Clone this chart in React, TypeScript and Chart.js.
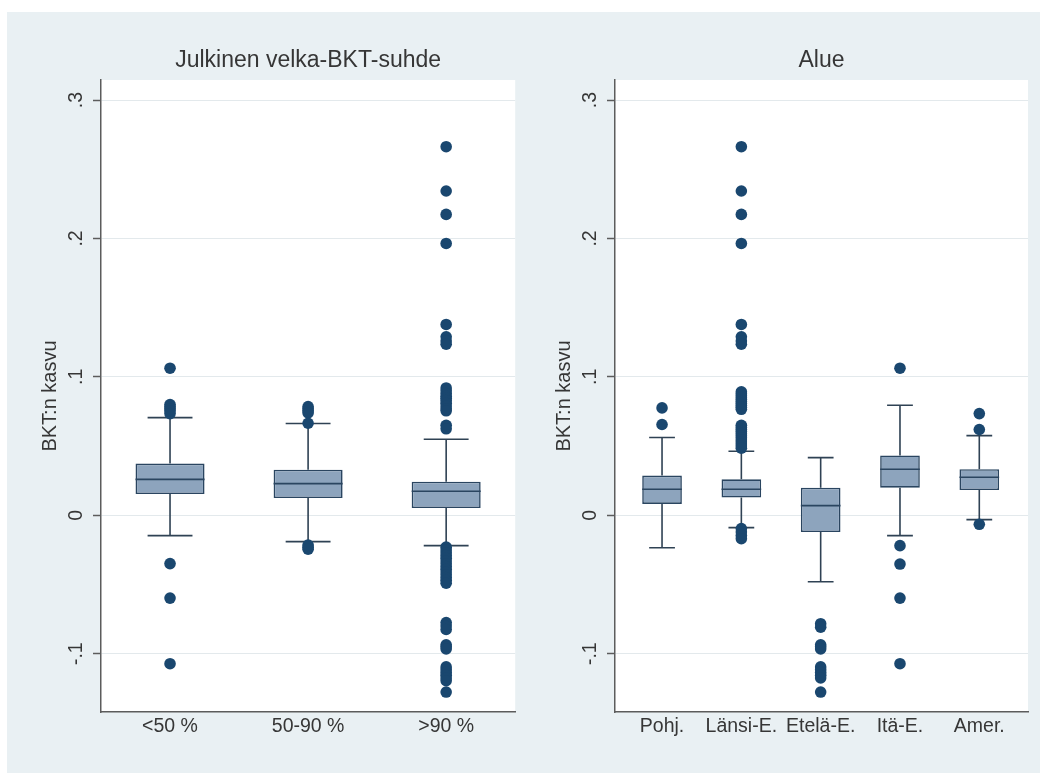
import { useEffect, useRef } from 'react';
import { Chart, registerables } from 'chart.js';

Chart.register(...registerables);

// ---- Panel 1: public debt-to-GDP groups ----
const debtGroups = ['<50 %', '50-90 %', '>90 %'];
const debtQ1 = [0.0154, 0.0125, 0.0053];
const debtMedian = [0.026, 0.0229, 0.0174];
const debtQ3 = [0.0374, 0.033, 0.0243];
const debtWhiskerLow = [-0.0147, -0.019, -0.0219];
const debtWhiskerHigh = [0.0706, 0.0663, 0.055];
const debtOutliers = [
  [0.1063, 0.08, 0.0785, 0.077, 0.0755, 0.0735, -0.0349, -0.0598, -0.1072],
  [0.0785, 0.077, 0.0755, 0.074, 0.0665, -0.0215, -0.023, -0.0245],
  [
    0.2663, 0.2343, 0.2174, 0.1964, 0.1379, 0.129, 0.126, 0.1236,
    0.092, 0.09, 0.088, 0.086, 0.0845, 0.083, 0.081, 0.079, 0.077, 0.0755, 0.065, 0.0625,
    -0.023, -0.025, -0.027, -0.029, -0.031, -0.033, -0.035, -0.037, -0.039, -0.041,
    -0.043, -0.045, -0.047, -0.049,
    -0.0775, -0.08, -0.0825, -0.0935, -0.095, -0.0965,
    -0.1095, -0.1115, -0.1135, -0.1155, -0.1175, -0.1195, -0.1277,
  ],
];

// ---- Panel 2: regions ----
const regionGroups = ['Pohj.', 'Länsi-E.', 'Etelä-E.', 'Itä-E.', 'Amer.'];
const regionQ1 = [0.0082, 0.0128, -0.0121, 0.02, 0.0183];
const regionMedian = [0.0188, 0.0188, 0.007, 0.0333, 0.0275];
const regionQ3 = [0.0287, 0.026, 0.02, 0.0432, 0.0333];
const regionWhiskerLow = [-0.0234, -0.0089, -0.048, -0.0147, -0.0031];
const regionWhiskerHigh = [0.0562, 0.0463, 0.0417, 0.0795, 0.0576];
const regionOutliers = [
  [0.0776, 0.0656],
  [
    0.2663, 0.2343, 0.2174, 0.1964, 0.1379, 0.129, 0.126, 0.1236,
    0.0892, 0.0878, 0.0864, 0.085, 0.0836, 0.0822, 0.0808, 0.0794, 0.078, 0.0766,
    0.065, 0.0635, 0.062, 0.0605, 0.059, 0.0575, 0.056, 0.0545, 0.053, 0.0515, 0.05, 0.0485,
    -0.0096, -0.012, -0.0145, -0.0169,
  ],
  [
    -0.0783, -0.0808, -0.0935, -0.095, -0.0965,
    -0.1095, -0.1115, -0.1135, -0.1155, -0.1175, -0.1277,
  ],
  [0.1063, -0.0219, -0.0352, -0.0598, -0.1072],
  [0.0735, 0.062, -0.0065],
];

// ---- shared y axis ----
const yTicks = [-0.1, 0, 0.1, 0.2, 0.3];
const yTickLabels = ['-.1', '0', '.1', '.2', '.3'];
const yTitle = 'BKT:n kasvu';

const FONT = '"Liberation Sans", Arial, Helvetica, sans-serif';
const TEXT = '#363636';
const AXIS = '#5c5c5c';
const GRID = '#e3e9ec';
const BOX_FILL = '#8da4bd';
const BOX_LINE = '#2a4560';
const WHISKER = '#2f4254';
const MARKER = '#1a476f';

type PanelProps = {
  title: string;
  groups: string[];
  q1: number[];
  median: number[];
  q3: number[];
  low: number[];
  high: number[];
  outliers: number[][];
  xMin: number;
  xMax: number;
  left: number;
  width: number;
  padRight: number;
};

function BoxPanel(p: PanelProps) {
  const ref = useRef<HTMLCanvasElement>(null);

  useEffect(() => {
    const canvas = ref.current;
    if (!canvas) return;
    const xs = p.groups.map((_, i) => i + 1);
    const boxes = xs.map((x, i) => ({ x, y: [p.q1[i], p.q3[i]] }));
    const points = p.outliers.flatMap((vals, i) => vals.map((v) => ({ x: i + 1, y: v })));

    // white plot region, whiskers behind the boxes, medians on top of them
    const boxParts = {
      id: 'boxParts',
      beforeDraw(chart: any) {
        const { ctx, chartArea: a } = chart;
        ctx.save();
        ctx.fillStyle = '#ffffff';
        ctx.fillRect(a.left, a.top, a.right - a.left, a.bottom - a.top);
        ctx.restore();
      },
      beforeDatasetsDraw(chart: any) {
        const { ctx } = chart;
        const xS = chart.scales.x;
        const yS = chart.scales.y;
        const meta = chart.getDatasetMeta(0);
        ctx.save();
        ctx.strokeStyle = WHISKER;
        ctx.lineWidth = 1.6;
        xs.forEach((x, i) => {
          const bar = meta.data[i];
          const cx = xS.getPixelForValue(x);
          const half = (bar.width * 0.65) / 2;
          const yHi = yS.getPixelForValue(p.high[i]);
          const yLo = yS.getPixelForValue(p.low[i]);
          ctx.beginPath();
          ctx.moveTo(cx, yS.getPixelForValue(p.q3[i]));
          ctx.lineTo(cx, yHi);
          ctx.moveTo(cx - half, yHi);
          ctx.lineTo(cx + half, yHi);
          ctx.moveTo(cx, yS.getPixelForValue(p.q1[i]));
          ctx.lineTo(cx, yLo);
          ctx.moveTo(cx - half, yLo);
          ctx.lineTo(cx + half, yLo);
          ctx.stroke();
        });
        ctx.restore();
      },
      afterDatasetDraw(chart: any, args: any) {
        if (args.index !== 0) return;
        const { ctx } = chart;
        const xS = chart.scales.x;
        const yS = chart.scales.y;
        const meta = chart.getDatasetMeta(0);
        ctx.save();
        ctx.strokeStyle = BOX_LINE;
        ctx.lineWidth = 1.6;
        xs.forEach((x, i) => {
          const bar = meta.data[i];
          const cx = xS.getPixelForValue(x);
          const half = bar.width / 2;
          const ym = yS.getPixelForValue(p.median[i]);
          ctx.beginPath();
          ctx.moveTo(cx - half, ym);
          ctx.lineTo(cx + half, ym);
          ctx.stroke();
        });
        ctx.restore();
      },
    };

    const chart = new Chart(canvas, {
      type: 'bar',
      data: {
        datasets: [
          {
            type: 'bar',
            data: boxes as any,
            backgroundColor: BOX_FILL,
            borderColor: BOX_LINE,
            borderWidth: 1.6,
            borderSkipped: false,
            barPercentage: 1,
            categoryPercentage: 0.5,
            order: 2,
          } as any,
          {
            type: 'scatter',
            data: points,
            pointRadius: 5.8,
            pointBackgroundColor: MARKER,
            pointBorderWidth: 0,
            order: 1,
          } as any,
        ],
      },
      options: {
        responsive: false,
        animation: false,
        events: [],
        layout: { padding: { left: 0, right: p.padRight, top: 0, bottom: 0 } },
        plugins: {
          legend: { display: false },
          tooltip: { enabled: false },
          title: {
            display: true,
            text: p.title,
            fullSize: false,
            color: TEXT,
            font: { family: FONT, size: 23, weight: 'normal' },
            padding: { top: 35, bottom: 5.4 },
          },
        },
        scales: {
          x: {
            type: 'linear',
            min: p.xMin,
            max: p.xMax,
            offset: false,
            grid: { display: false, drawTicks: false },
            border: { display: true, color: AXIS, width: 1.5 },
            ticks: {
              autoSkip: false,
              maxRotation: 0,
              padding: 3,
              color: TEXT,
              font: { family: FONT, size: 19.5 },
              callback: (v: any) => p.groups[Math.round(Number(v)) - 1] ?? '',
            },
            afterBuildTicks: (s: any) => {
              s.ticks = xs.map((v) => ({ value: v }));
            },
            afterFit: (s: any) => {
              s.height = 61;
            },
          },
          y: {
            type: 'linear',
            min: -0.1421,
            max: 0.3145,
            grid: {
              color: GRID,
              lineWidth: 1,
              drawTicks: true,
              tickLength: 8,
              tickColor: AXIS,
              tickWidth: 1.5,
            },
            border: { display: true, color: AXIS, width: 1.5 },
            ticks: {
              autoSkip: false,
              minRotation: 90,
              maxRotation: 90,
              crossAlign: 'center',
              padding: 5,
              color: TEXT,
              font: { family: FONT, size: 19.5 },
              callback: (v: any) => {
                const k = yTicks.findIndex((t) => Math.abs(t - Number(v)) < 1e-9);
                return k >= 0 ? yTickLabels[k] : '';
              },
            },
            title: {
              display: true,
              text: yTitle,
              color: TEXT,
              font: { family: FONT, size: 20 },
              padding: { top: 31, bottom: 0 },
            },
            afterBuildTicks: (s: any) => {
              s.ticks = yTicks.map((v) => ({ value: v }));
            },
            afterFit: (s: any) => {
              s.width = 94;
            },
          },
        },
      } as any,
      plugins: [boxParts],
    });

    return () => chart.destroy();
  }, []);

  return (
    <canvas
      ref={ref}
      width={p.width}
      height={761}
      style={{ position: 'absolute', left: p.left, top: 12, width: p.width, height: 761 }}
    />
  );
}

export default function App() {
  return (
    <div
      style={{
        position: 'absolute',
        left: 0,
        top: 0,
        width: 1051,
        height: 774,
        background: '#ffffff',
        overflow: 'hidden',
      }}
    >
      <div
        style={{
          position: 'absolute',
          left: 7,
          top: 12,
          width: 1033,
          height: 761,
          background: '#e9f0f3',
        }}
      />
      <BoxPanel
        title="Julkinen velka-BKT-suhde"
        groups={debtGroups}
        q1={debtQ1}
        median={debtMedian}
        q3={debtQ3}
        low={debtWhiskerLow}
        high={debtWhiskerHigh}
        outliers={debtOutliers}
        xMin={0.5}
        xMax={3.5}
        left={7}
        width={514}
        padRight={5}
      />
      <BoxPanel
        title="Alue"
        groups={regionGroups}
        q1={regionQ1}
        median={regionMedian}
        q3={regionQ3}
        low={regionWhiskerLow}
        high={regionWhiskerHigh}
        outliers={regionOutliers}
        xMin={0.407}
        xMax={5.614}
        left={521}
        width={519}
        padRight={12}
      />
    </div>
  );
}
